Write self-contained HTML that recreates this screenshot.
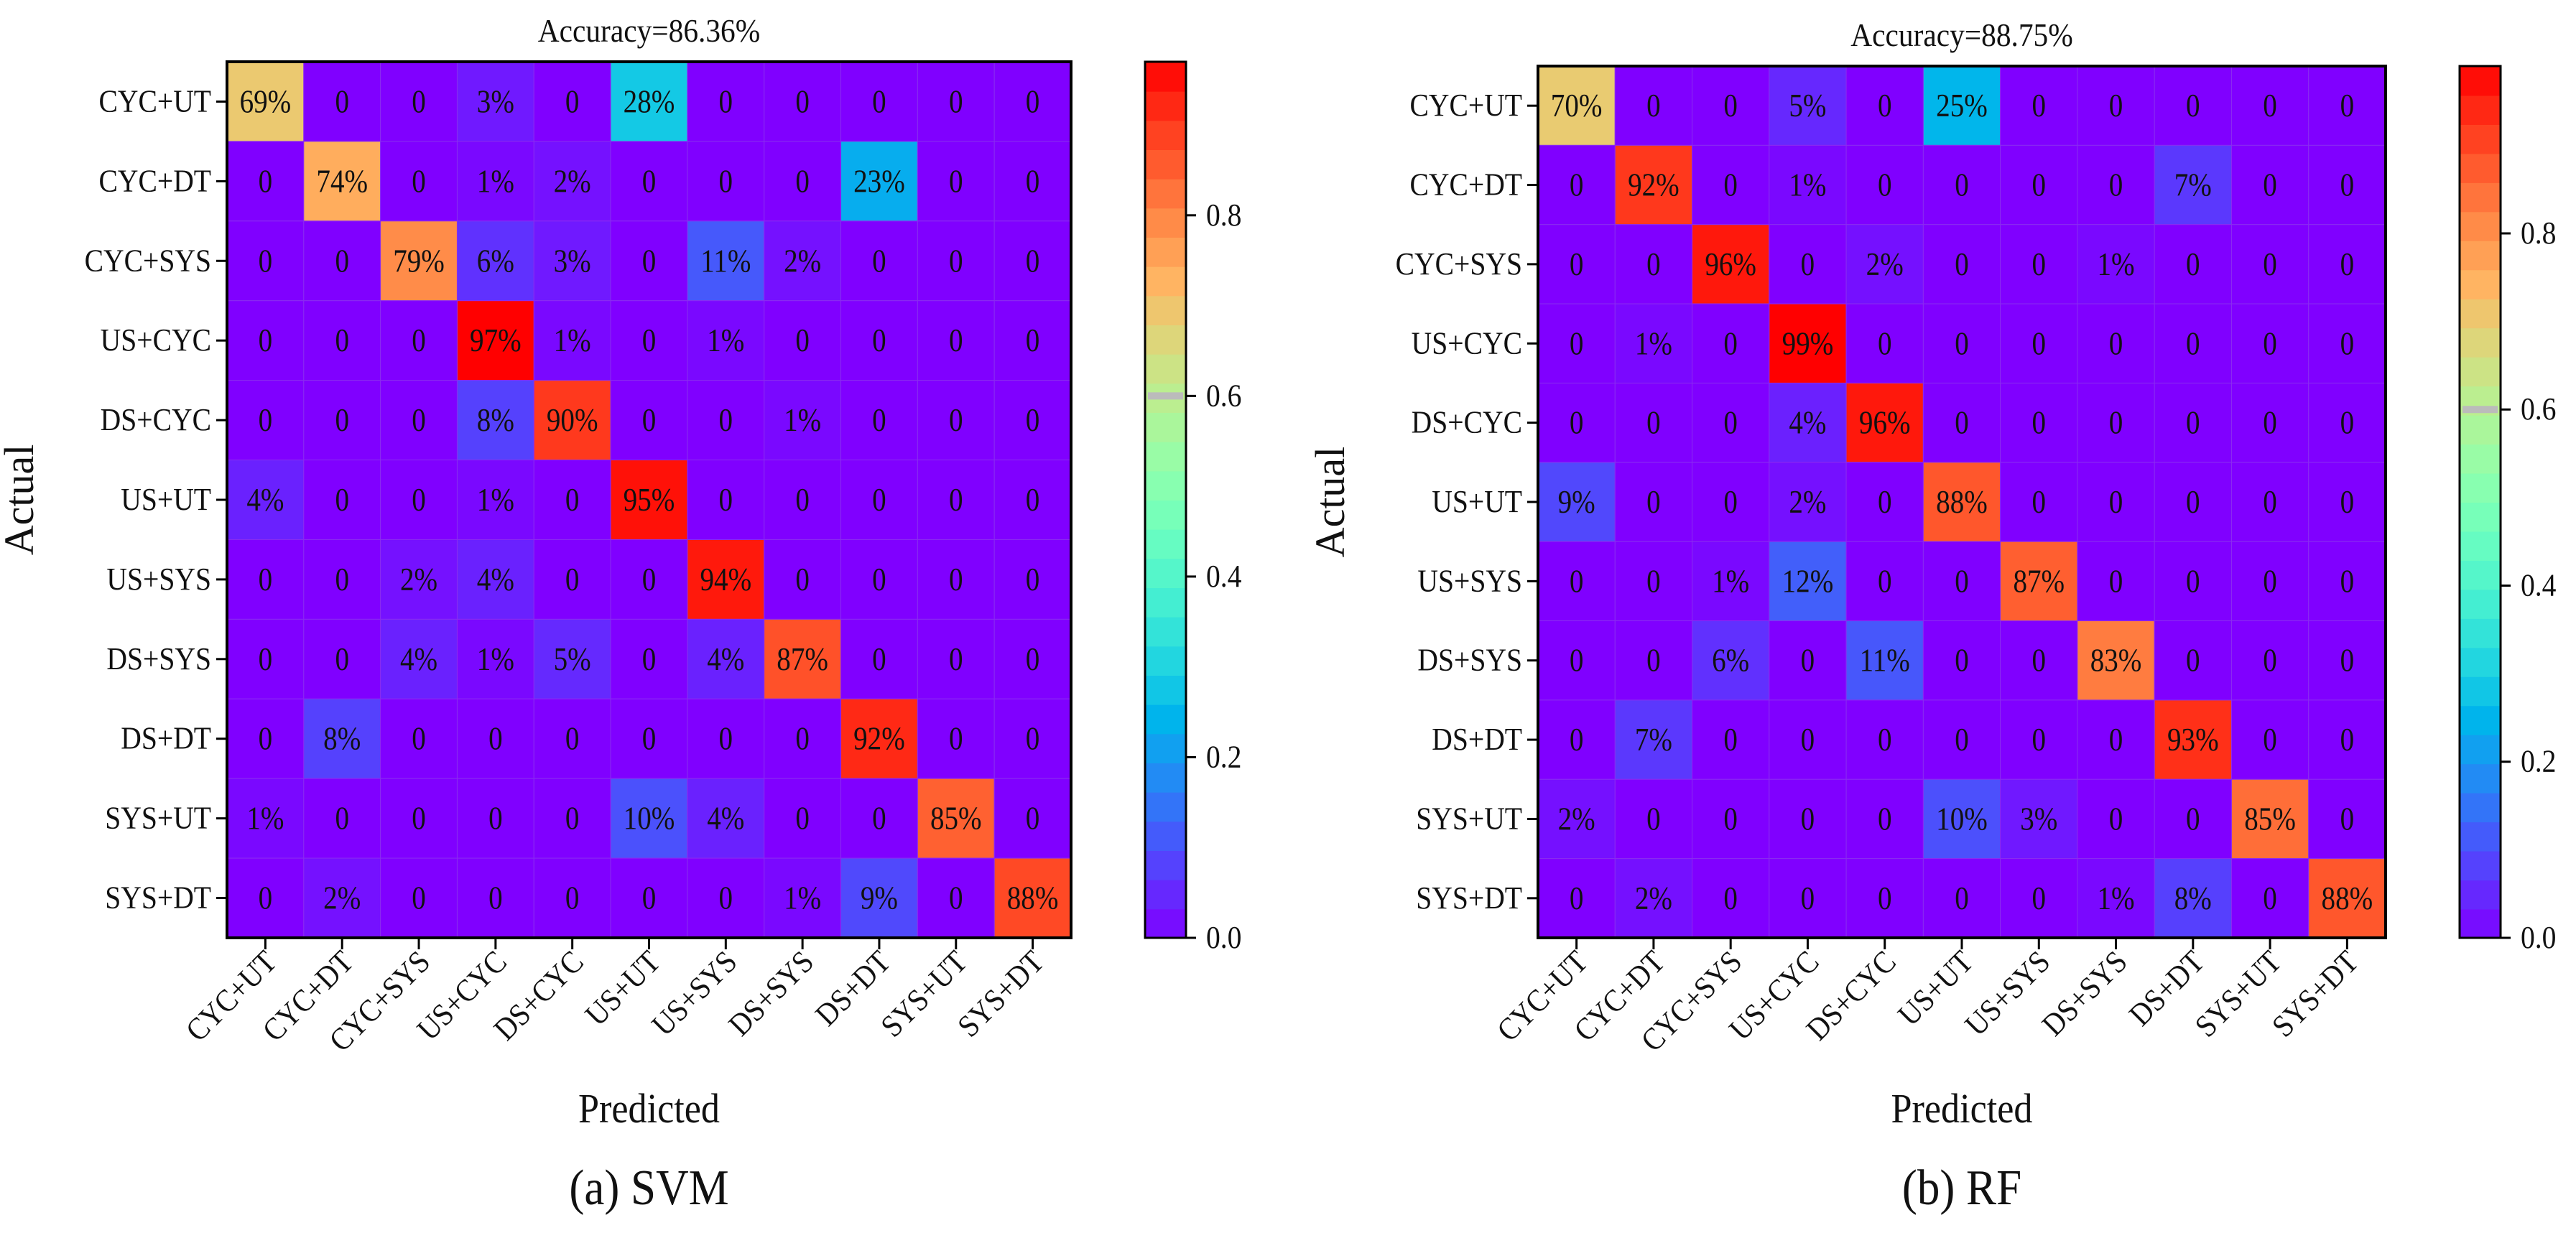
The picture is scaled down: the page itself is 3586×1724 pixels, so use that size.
<!DOCTYPE html>
<html><head><meta charset="utf-8"><style>
html,body{margin:0;padding:0;background:#fff;}
svg{display:block;}
svg text{font-family:"Liberation Serif","Times New Roman",Times,"DejaVu Serif",serif;}
</style></head><body>
<svg id="fig" width="3586" height="1724" viewBox="0 0 3586 1724" xmlns="http://www.w3.org/2000/svg">
<rect width="3586" height="1724" fill="#fff"/>
</svg>
<script>
const classLabels = ["CYC+UT","CYC+DT","CYC+SYS","US+CYC","DS+CYC","US+UT","US+SYS","DS+SYS","DS+DT","SYS+UT","SYS+DT"];
const svmValues = [
 [69,0,0,3,0,28,0,0,0,0,0],
 [0,74,0,1,2,0,0,0,23,0,0],
 [0,0,79,6,3,0,11,2,0,0,0],
 [0,0,0,97,1,0,1,0,0,0,0],
 [0,0,0,8,90,0,0,1,0,0,0],
 [4,0,0,1,0,95,0,0,0,0,0],
 [0,0,2,4,0,0,94,0,0,0,0],
 [0,0,4,1,5,0,4,87,0,0,0],
 [0,8,0,0,0,0,0,0,92,0,0],
 [1,0,0,0,0,10,4,0,0,85,0],
 [0,2,0,0,0,0,0,1,9,0,88]
];
const rfValues = [
 [70,0,0,5,0,25,0,0,0,0,0],
 [0,92,0,1,0,0,0,0,7,0,0],
 [0,0,96,0,2,0,0,1,0,0,0],
 [0,1,0,99,0,0,0,0,0,0,0],
 [0,0,0,4,96,0,0,0,0,0,0],
 [9,0,0,2,0,88,0,0,0,0,0],
 [0,0,1,12,0,0,87,0,0,0,0],
 [0,0,6,0,11,0,0,83,0,0,0],
 [0,7,0,0,0,0,0,0,93,0,0],
 [2,0,0,0,0,10,3,0,0,85,0],
 [0,2,0,0,0,0,0,1,8,0,88]
];
const colorbarTicks = [0.0,0.2,0.4,0.6,0.8];
const titles = ["Accuracy=86.36%","Accuracy=88.75%"];
const captions = ["(a) SVM","(b) RF"];

const NS="http://www.w3.org/2000/svg";
const svg=document.getElementById("fig");
function mk(tag,attrs,parent){const e=document.createElementNS(NS,tag);for(const k in attrs)e.setAttribute(k,attrs[k]);(parent||svg).appendChild(e);return e;}
function rainbow(x){x=Math.max(0,Math.min(1,x));
 const r=Math.min(1,Math.abs(2*x-0.5)),g=Math.sin(Math.PI*x),b=Math.cos(Math.PI*x/2);
 return "rgb("+Math.round(r*255)+","+Math.round(g*255)+","+Math.round(b*255)+")";}
function sx(x,k){return "translate("+x+",0) scale("+k+",1) translate("+(-x)+",0)";}

function panel(values,title,caption,L,R,T,B,cbL,cbR,cbT,prefix,actualX){
 const g=mk("g",{});
 
 
 const n=classLabels.length;
 const cw=(R-L)/n,ch=(B-T)/n;
 const flat=values.flat();const vmax=Math.max(...flat)/100;
 const xs=i=>L+cw*(i+0.5), ys=j=>T+ch*(j+0.5);
 for(let r=0;r<n;r++)for(let c=0;c<n;c++){
  const v=values[r][c];
  const cell=mk("rect",{x:L+c*cw,y:T+r*ch,width:cw,height:ch,fill:rainbow(v/100/vmax),stroke:"#8a2cf0","stroke-width":1},g);
  
  
  const t=mk("text",{x:xs(c),y:ys(r)+15,"text-anchor":"middle","font-size":46,fill:"#111",transform:sx(xs(c),0.85)},g);
  t.textContent=v===0?"0":v+"%";
  
  
 }
 const frame=mk("rect",{x:L,y:T,width:R-L,height:B-T,fill:"none",stroke:"#000","stroke-width":4},g);
 
 
 for(let i=0;i<n;i++){
  mk("line",{x1:L-15,x2:L,y1:ys(i),y2:ys(i),stroke:"#000","stroke-width":3},g);
  const yl=mk("text",{x:L-22,y:ys(i)+14,"text-anchor":"end","font-size":44,fill:"#111",transform:sx(L-22,0.9)},g);
  yl.textContent=classLabels[i];
  
  
  mk("line",{x1:xs(i),x2:xs(i),y1:B,y2:B+16,stroke:"#000","stroke-width":3},g);
  const ax=xs(i)+18, ay=B+36;
  const xl=mk("text",{x:ax,y:ay,"text-anchor":"end","font-size":44,fill:"#111",transform:"rotate(-45 "+ax+" "+ay+") "+sx(ax,0.9)},g);
  xl.textContent=classLabels[i];
  
  
 }
 const tt=mk("text",{x:(L+R)/2,y:T-28,"text-anchor":"middle","font-size":46,fill:"#111",transform:sx((L+R)/2,0.9)},g);
 tt.textContent=title;
 
 
 const xt=mk("text",{x:(L+R)/2,y:1563,"text-anchor":"middle","font-size":58,fill:"#111",transform:sx((L+R)/2,0.9)},g);
 xt.textContent="Predicted";
 
 
 const ay2=(T+B)/2;
 const yt=mk("text",{x:actualX,y:ay2,"text-anchor":"middle","font-size":58,fill:"#111",transform:"rotate(-90 "+actualX+" "+ay2+")"},g);
 yt.textContent="Actual";
 
 
 const cp=mk("text",{x:(L+R)/2,y:1677,"text-anchor":"middle","font-size":70,fill:"#111",transform:sx((L+R)/2,0.9)},g);
 cp.textContent=caption;
 
 
 const cb=mk("g",{},g);
 
 
 const bands=30, bh=B-cbT;
 for(let k=0;k<bands;k++){
  mk("rect",{x:cbL,y:B-(k+1)*bh/bands,width:cbR-cbL,height:bh/bands+1,fill:rainbow((k+0.5)/bands)},cb);
 }
 const yv=v=>B-(v/vmax)*bh;
 mk("rect",{x:cbL+4,y:yv(0.6)-5,width:cbR-cbL-8,height:10,fill:"#bbb"},cb);
 mk("rect",{x:cbL,y:cbT,width:cbR-cbL,height:bh,fill:"none",stroke:"#000","stroke-width":3},cb);
 colorbarTicks.forEach(v=>{
  mk("line",{x1:cbR,x2:cbR+14,y1:yv(v),y2:yv(v),stroke:"#000","stroke-width":3},cb);
  const tl=mk("text",{x:cbR+28,y:yv(v)+14,"font-size":44,fill:"#111",transform:sx(cbR+28,0.9)},cb);
  tl.textContent=v.toFixed(1);
  
  
 });
}
panel(svmValues,titles[0],captions[0],316,1491,86,1306,1594,1651,86,"svm",46);
panel(rfValues,titles[1],captions[1],2141,3321,92,1306,3424,3481,92,"rf",1871);
</script>
</body></html>
